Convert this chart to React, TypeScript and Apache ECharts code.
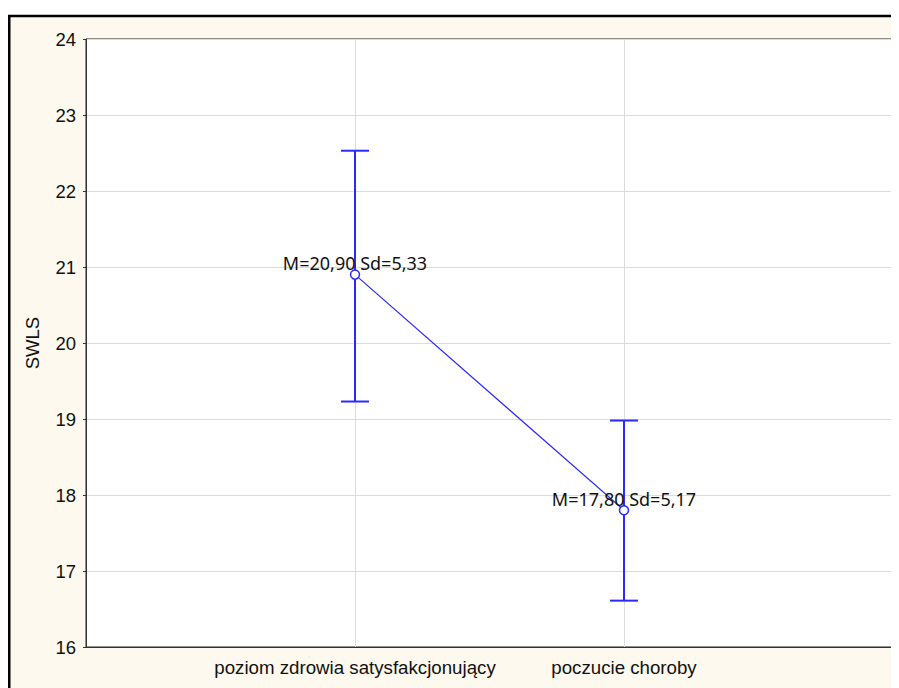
import React, { useEffect, useRef } from "react";
import * as echarts from "echarts";

const categories = ["poziom zdrowia satysfakcjonujący", "poczucie choroby"];
const means = [20.9, 17.8];
const sds = [5.33, 5.17];
const lowerBars = [19.23, 16.61];
const upperBars = [22.53, 18.98];
const yTicks = [16, 17, 18, 19, 20, 21, 22, 23, 24];

const BLUE = "#2a2aff";
const fmt = (v: number) => v.toFixed(2).replace(".", ",");

export default function App() {
  const ref = useRef<HTMLDivElement>(null);
  useEffect(() => {
    if (!ref.current) return;
    const chart = echarts.init(ref.current, undefined, { renderer: "svg" });
    const pointData = means.map((m, i) => [i + 1, m]);
    const barData = lowerBars.map((lo, i) => [i + 1, lo, upperBars[i]]);
    const labelFont = "'Liberation Sans', Arial, sans-serif";
    chart.setOption({
      animation: false,
      backgroundColor: "transparent",
      graphic: [
        {
          type: "rect",
          z: -10,
          silent: true,
          shape: { x: 1.25, y: 7.9, width: 1000, height: 1000 },
          style: { fill: "#fdf9ee", stroke: "#000", lineWidth: 2.5 },
        },
      ],
      grid: {
        left: 78,
        top: 31,
        right: 6,
        bottom: 41,
        show: true,
        backgroundColor: "#ffffff",
        borderColor: "#222",
        borderWidth: 1,
      },
      xAxis: {
        type: "value",
        min: 0,
        max: categories.length + 1,
        interval: 1,
        axisLine: { show: true, lineStyle: { color: "#333", width: 1 } },
        axisTick: { show: false },
        splitLine: { show: true, lineStyle: { color: "#dcdcdc", width: 1 } },
        axisLabel: {
          margin: 11,
          fontSize: 18.7,
          fontFamily: labelFont,
          color: "#111",
          formatter: (v: number) => categories[v - 1] ?? "",
        },
      },
      yAxis: [
        {
          type: "value",
          min: yTicks[0],
          max: yTicks[yTicks.length - 1],
          interval: 1,
          name: "SWLS",
          nameLocation: "middle",
          nameGap: 44,
          nameTextStyle: { fontSize: 18.5, fontFamily: labelFont, color: "#111" },
          axisLine: { show: true, lineStyle: { color: "#333", width: 1 } },
          axisTick: { show: true, length: 3, lineStyle: { color: "#333" } },
          splitLine: { show: true, lineStyle: { color: "#dcdcdc", width: 1 } },
          axisLabel: { margin: 10, fontSize: 18.5, fontFamily: labelFont, color: "#111" },
        },
        {
          type: "value",
          position: "right",
          min: yTicks[0],
          max: yTicks[yTicks.length - 1],
          interval: 1,
          axisLine: { show: true, lineStyle: { color: "#222", width: 1 } },
          axisTick: { show: true, length: 3, lineStyle: { color: "#222" } },
          splitLine: { show: false },
          axisLabel: { show: false },
        },
      ],
      series: [
        {
          type: "custom",
          z: 2,
          data: barData,
          encode: { x: 0, y: [1, 2] },
          renderItem: (params: any, api: any) => {
            const x = api.value(0);
            const pLo = api.coord([x, api.value(1)]);
            const pHi = api.coord([x, api.value(2)]);
            const hw = 14;
            const style = { stroke: BLUE, lineWidth: 2 };
            return {
              type: "group",
              children: [
                { type: "line", shape: { x1: pLo[0], y1: pLo[1], x2: pHi[0], y2: pHi[1] }, style },
                { type: "line", shape: { x1: pHi[0] - hw, y1: pHi[1], x2: pHi[0] + hw, y2: pHi[1] }, style },
                { type: "line", shape: { x1: pLo[0] - hw, y1: pLo[1], x2: pLo[0] + hw, y2: pLo[1] }, style },
              ],
            };
          },
        },
        {
          type: "line",
          z: 3,
          data: pointData,
          symbol: "circle",
          symbolSize: 9,
          lineStyle: { color: BLUE, width: 1.2 },
          itemStyle: { color: "#ffffff", borderColor: BLUE, borderWidth: 1.5 },
          label: {
            show: true,
            position: "top",
            distance: 0,
            offset: [0, 3],
            fontSize: 18,
            fontFamily: "'Noto Sans', sans-serif",
            color: "#111",
            formatter: (p: any) => `M=${fmt(means[p.dataIndex])} Sd=${fmt(sds[p.dataIndex])}`,
          },
        },
      ],
    });
    return () => chart.dispose();
  }, []);
  return <div ref={ref} style={{ width: 891, height: 680 }} />;
}
